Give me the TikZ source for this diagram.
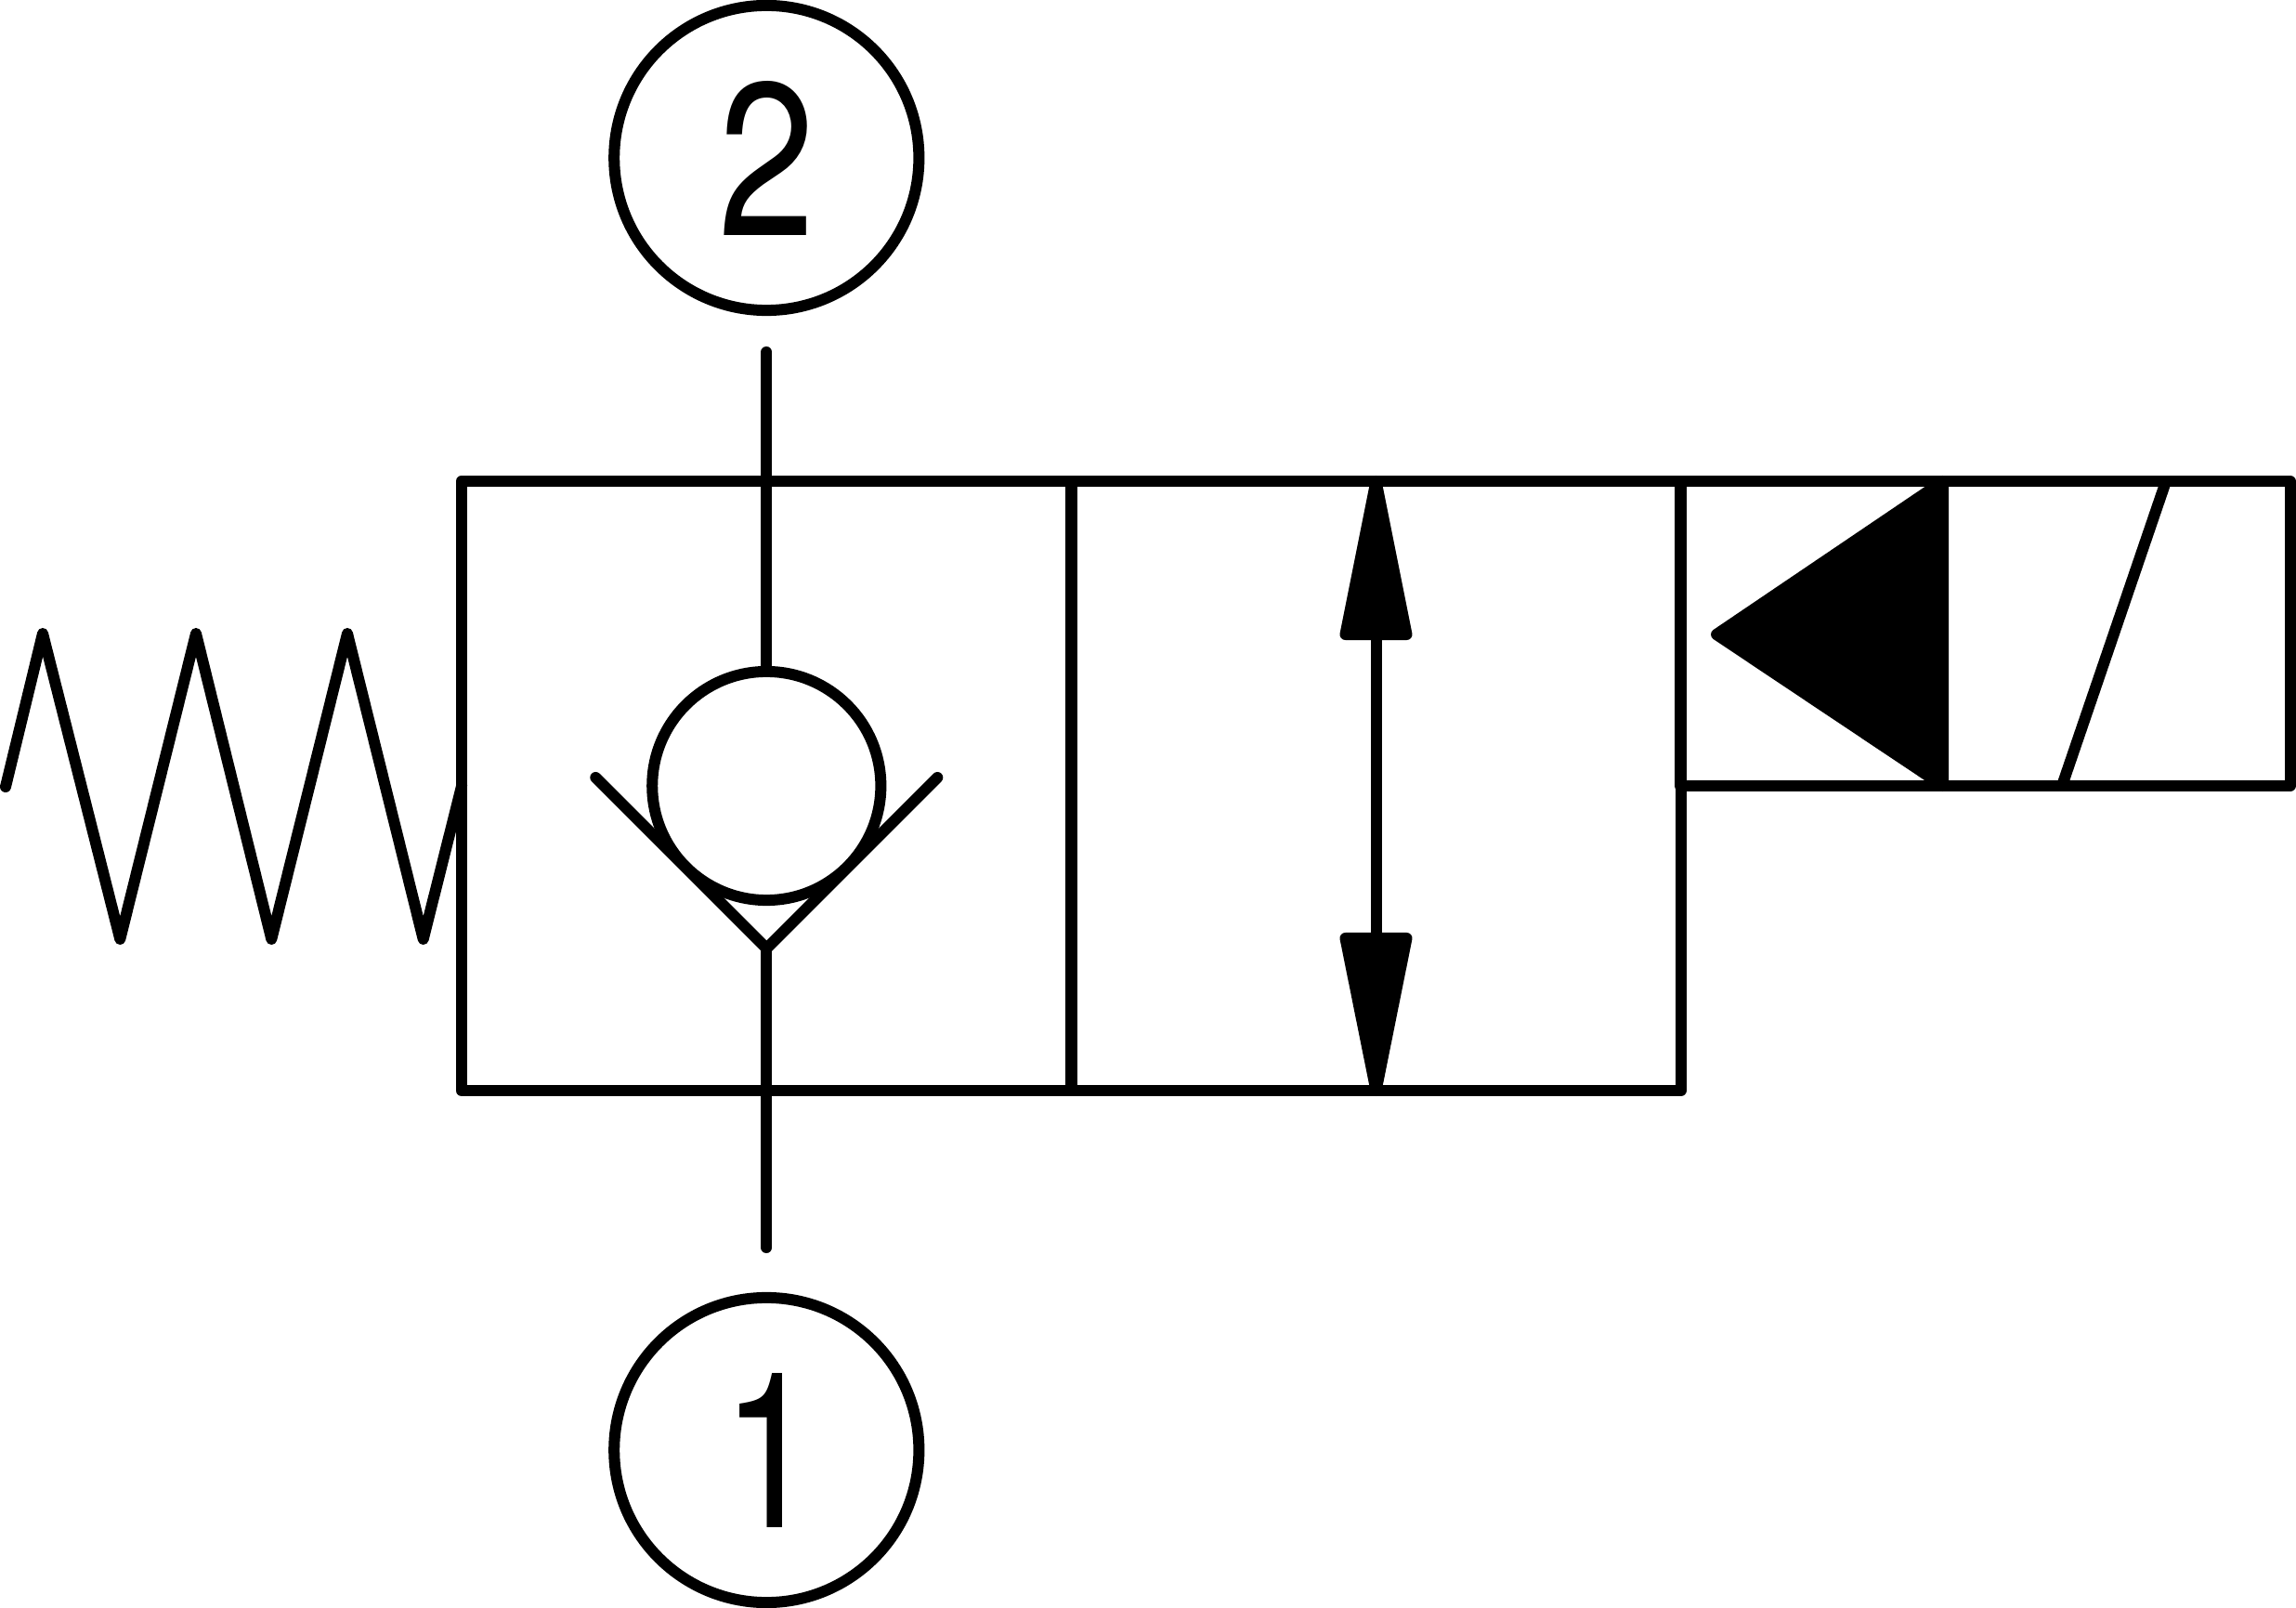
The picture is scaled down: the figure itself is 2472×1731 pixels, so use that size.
\documentclass[tikz,border=0pt]{standalone}
\usepackage{fontspec}
\newfontfamily\digitfont[FakeStretch=0.8]{TeX Gyre Heros}
\begin{document}
\begin{tikzpicture}[x=0.01cm,y=-0.01cm,
  every path/.style={line width=0.12cm,line cap=round,line join=round},
  portcircle/.style={draw,circle,line width=0.12cm,minimum size=3.28cm,inner sep=0pt,outer sep=0pt,font=\digitfont\fontsize{66.6}{70}\selectfont},
  ballcircle/.style={draw,circle,line width=0.12cm,minimum size=2.46cm,inner sep=0pt,outer sep=0pt},
  cellbox/.style={draw,rectangle,line width=0.12cm,line join=round,minimum width=6.56cm,minimum height=6.56cm,inner sep=0pt,outer sep=0pt},
  solbox/.style={draw,rectangle,line width=0.12cm,line join=round,minimum width=6.56cm,minimum height=3.28cm,inner sep=0pt,outer sep=0pt},
  pipe/.style={draw,line width=0.12cm,line cap=round,line join=round},
  solid tip/.style={draw,fill=black,line width=0.12cm,line join=round}]
\useasboundingbox (0,0) rectangle (2472,1731);

% envelopes
\node[cellbox] (cellA) at (825.3,846) {};
\node[cellbox] (cellB) at (1481.3,846) {};
\node[solbox] (sol) at (2137.3,682) {};

% ports
\node[portcircle] (port2) at (825.3,170) {2};
\node[portcircle] (port1) at (825.3,1561) {\kern2.7pt 1};

% check valve
\node[ballcircle] (ball) at (825.3,846) {};
\coordinate (seatL) at (641.3,837);
\coordinate (seatV) at (825.3,1021);
\coordinate (seatR) at (1009.3,837);
\coordinate (stub2) at (825.3,379);
\coordinate (stub1) at (825.3,1343);
\draw[pipe] (seatL) -- (seatV) -- (seatR);
\draw[pipe] (stub2) -- (ball.north);
\draw[pipe] (seatV) -- (stub1);

% spring
\coordinate (sp0) at (6,847);
\coordinate (sp1) at (46,682);
\coordinate (sp2) at (129.3,1011);
\coordinate (sp3) at (211,682);
\coordinate (sp4) at (292.3,1011);
\coordinate (sp5) at (374,682);
\coordinate (sp6) at (455.7,1011);
\draw[pipe] (sp0) -- (sp1) -- (sp2) -- (sp3) -- (sp4) -- (sp5) -- (sp6) -- (cellA.west);

% double-headed flow arrow
\coordinate (upA) at (1481.5,518);
\coordinate (upB) at (1448.5,683);
\coordinate (upC) at (1514.5,683);
\coordinate (dnA) at (1481.5,1174);
\coordinate (dnB) at (1448.5,1010);
\coordinate (dnC) at (1514.5,1010);
\coordinate (upM) at (1481.5,683);
\coordinate (dnM) at (1481.5,1010);
\draw[solid tip] (upA) -- (upB) -- (upC) -- cycle;
\draw[solid tip] (dnA) -- (dnB) -- (dnC) -- cycle;
\draw[pipe] (upM) -- (dnM);

% solenoid
\coordinate (solA) at (1848,683);
\coordinate (solB) at (2092,518);
\coordinate (solC) at (2092,846);
\coordinate (slashA) at (2220,846);
\coordinate (slashB) at (2332,518);
\draw[solid tip] (solA) -- (solB) -- (solC) -- cycle;
\draw[pipe] (slashA) -- (slashB);
\end{tikzpicture}
\end{document}
